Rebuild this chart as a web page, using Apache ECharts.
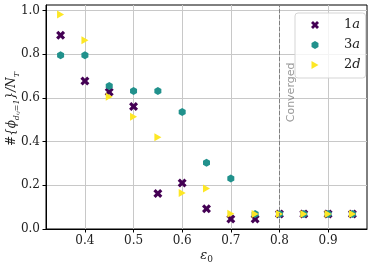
<!DOCTYPE html>
<html><head><meta charset="utf-8">
<script src="https://cdn.jsdelivr.net/npm/echarts@6/dist/echarts.min.js"></script>
<style>html,body{margin:0;padding:0;background:#fff}#c{width:374px;height:269px}</style>
</head><body><div id="c"></div>
<script>
const eps = [0.35,0.40,0.45,0.50,0.55,0.60,0.65,0.70,0.75,0.80,0.85,0.90,0.95];
const s1a = [0.887,0.677,0.627,0.560,0.162,0.211,0.093,0.046,0.046,0.069,0.069,0.069,0.069];
const s3a = [0.795,0.795,0.654,0.631,0.631,0.535,0.303,0.231,0.069,0.069,0.069,0.069,0.069];
const s2d = [0.982,0.864,0.605,0.514,0.420,0.165,0.185,0.070,0.069,0.069,0.069,0.069,0.069];
const xTicks = [0.4,0.5,0.6,0.7,0.8,0.9];
const yTicks = [0.0,0.2,0.4,0.6,0.8,1.0];
const seriesNames = ['1a','3a','2d'];
const convergedX = 0.8;
const convergedLabel = 'Converged';

const colors = ['#440154','#21918c','#fde725'];
const symX = 'path://M25,0L50,25L75,0L100,25L75,50L100,75L75,100L50,75L25,100L0,75L25,50L0,25Z';
const symHex = 'path://M50,0L93.3,25L93.3,75L50,100L6.7,75L6.7,25Z';
const symTri = 'path://M0,0L87,50L0,100Z';
const serif = 'DejaVu Serif';

const chart = echarts.init(document.getElementById('c'), null, {renderer:'canvas'});
const mk = (arr) => eps.map((x,i)=>[x, arr[i]]);
chart.setOption({
  animation:false,
  grid:{left:46,right:7,top:5,bottom:40,outerBoundsMode:'none',containLabel:false,show:true,borderColor:'#000',borderWidth:1,backgroundColor:'transparent'},
  xAxis:{type:'value',min:0.32,max:0.98,
    axisLine:{lineStyle:{color:'#000',width:1}},
    axisTick:{customValues:xTicks,length:3.5,lineStyle:{color:'#000'}},
    axisLabel:{customValues:xTicks,color:'#222',fontFamily:serif,fontSize:12,margin:6,formatter:v=>v.toFixed(1)},
    splitLine:{show:true,lineStyle:{color:'#c8c8c8',width:1}},
    name:'ε{s|0}',nameLocation:'middle',nameGap:19,nameMoveOverlap:false,
    nameTextStyle:{fontFamily:serif,fontSize:13,fontStyle:'italic',color:'#222',lineHeight:16,
      rich:{s:{fontSize:9,fontFamily:serif,fontStyle:'normal',verticalAlign:'bottom',lineHeight:16}}}
  },
  yAxis:{type:'value',min:0,max:1.025,
    axisLine:{show:true,lineStyle:{color:'#000',width:1}},
    axisTick:{show:true,customValues:yTicks,length:3.5,lineStyle:{color:'#000'}},
    axisLabel:{customValues:yTicks,color:'#222',fontFamily:serif,fontSize:12,margin:6,formatter:v=>v.toFixed(1)},
    splitLine:{show:true,lineStyle:{color:'#c8c8c8',width:1}},
    name:'#{ϕ{s|dᵢⱼ=1}}/N{s|T}',nameLocation:'middle',nameGap:25,nameMoveOverlap:false,
    nameTextStyle:{fontFamily:serif,fontSize:12,fontStyle:'italic',color:'#222',lineHeight:18,padding:[0,0,0,16],
      rich:{s:{fontSize:8,fontFamily:serif,fontStyle:'italic',verticalAlign:'bottom',lineHeight:18}}}
  },
  legend:{data:seriesNames,orient:'vertical',left:295,top:13,
    padding:[5,5,6,16],itemGap:6,itemWidth:8,itemHeight:8,
    borderColor:'#d5d5d5',borderWidth:1,borderRadius:3,backgroundColor:'rgba(255,255,255,0.8)',
    formatter:n=>'{n|'+n[0]+'}{i|'+n.slice(1)+'}',
    textStyle:{lineHeight:14,rich:{
      n:{fontFamily:serif,fontSize:13,color:'#222',padding:[0,0,0,20]},
      i:{fontFamily:serif,fontSize:13,fontStyle:'italic',color:'#222'}}}
  },
  series:[
    {name:seriesNames[0],type:'scatter',data:mk(s1a),symbol:symX,symbolSize:9,itemStyle:{color:colors[0],opacity:1},z:2,
     markLine:{silent:true,symbol:'none',label:{show:false},lineStyle:{color:'#808080',type:[4,2],width:1},data:[{xAxis:convergedX}]}},
    {name:seriesNames[1],type:'scatter',data:mk(s3a),symbol:symHex,symbolSize:[7,8],itemStyle:{color:colors[1],opacity:1},z:3},
    {name:seriesNames[2],type:'scatter',data:mk(s2d),symbol:symTri,symbolSize:[7,8],itemStyle:{color:colors[2],opacity:1},z:4},
    {name:'conv',type:'scatter',data:[[0.823,0.625]],symbolSize:0,silent:true,z:1,
     label:{show:true,formatter:convergedLabel,rotate:90,position:'inside',color:'#808080',fontFamily:'DejaVu Sans',fontSize:11}}
  ]
});
</script></body></html>
